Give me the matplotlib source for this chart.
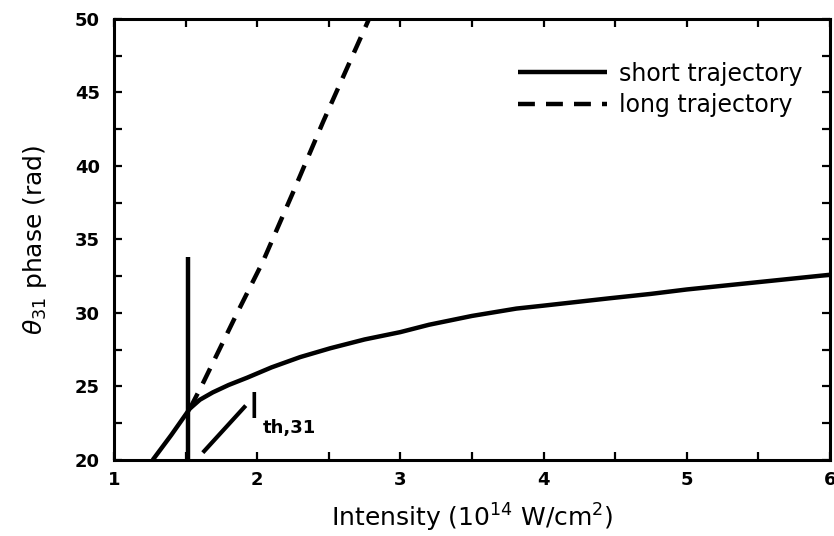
import matplotlib
matplotlib.use('Agg')
from matplotlib import pyplot as plt
from matplotlib.ticker import MultipleLocator

plt.rcParams['font.family'] = ['DejaVu Sans']
plt.rcParams['mathtext.fontset'] = 'dejavusans'

# short trajectory phase vs intensity
short_x = [1.27, 1.40, 1.53, 1.60, 1.69, 1.80, 1.93, 2.10, 2.30, 2.51, 2.75, 3.0, 3.2,
           3.5, 3.81, 4.0, 4.46, 4.75, 5.0, 5.5, 6.0]
short_y = [20.0, 21.7, 23.5, 24.1, 24.6, 25.1, 25.6, 26.3, 27.0, 27.6, 28.2, 28.7, 29.2,
           29.8, 30.3, 30.5, 31.0, 31.3, 31.6, 32.1, 32.6]

# long trajectory phase vs intensity
long_x = [1.53, 1.62, 1.86, 2.04, 2.25, 2.46, 2.62, 2.79]
long_y = [23.5, 25.2, 30.0, 33.5, 38.2, 43.0, 46.5, 50.2]

# threshold marker and its pointer
i_th = 1.52
i_th_top = 33.8
pointer_x = [1.62, 1.92]
pointer_y = [20.5, 23.7]

fig = plt.figure(figsize=(8.34, 5.36), dpi=100)
ax = fig.add_axes([0.1367, 0.1418, 0.8585, 0.8228])

ax.plot(short_x, short_y, color='black', lw=3.2, solid_capstyle='butt',
        label='short trajectory')
ax.plot(long_x, long_y, color='black', lw=3.2, dashes=(3.8, 2.5),
        label='long trajectory')
ax.plot([i_th, i_th], [20, i_th_top], color='black', lw=3.2, solid_capstyle='butt')
ax.plot(pointer_x, pointer_y, color='black', lw=3, solid_capstyle='butt')

ax.text(1.94, 22.85, 'I', fontsize=26, ha='left', va='baseline')
ax.text(2.04, 21.85, 'th,31', fontsize=13, fontweight='bold', ha='left', va='baseline')

ax.set_xlim(1, 6)
ax.set_ylim(20, 50)
ax.xaxis.set_major_locator(MultipleLocator(1))
ax.xaxis.set_minor_locator(MultipleLocator(0.5))
ax.yaxis.set_major_locator(MultipleLocator(5))
ax.yaxis.set_minor_locator(MultipleLocator(2.5))
ax.tick_params(which='both', direction='in', top=True, right=True,
               length=6, width=1.6)
ax.tick_params(axis='y', pad=10)
ax.tick_params(axis='x', pad=8)
for lab in ax.get_xticklabels() + ax.get_yticklabels():
    lab.set_fontsize(13)
    lab.set_fontweight('bold')
for s in ax.spines.values():
    s.set_linewidth(2.2)

ax.set_xlabel('Intensity (10$^{14}$ W/cm$^{2}$)', fontsize=18, labelpad=9)
ax.set_ylabel(r'$\theta_{31}$ phase (rad)', fontsize=18, labelpad=19)

leg = ax.legend(loc='upper right', bbox_to_anchor=(0.962, 0.903), frameon=False,
                fontsize=17, handlelength=3.8, handletextpad=0.5, labelspacing=0.3,
                borderpad=0, borderaxespad=0)

plt.savefig('out.png', dpi=100)
